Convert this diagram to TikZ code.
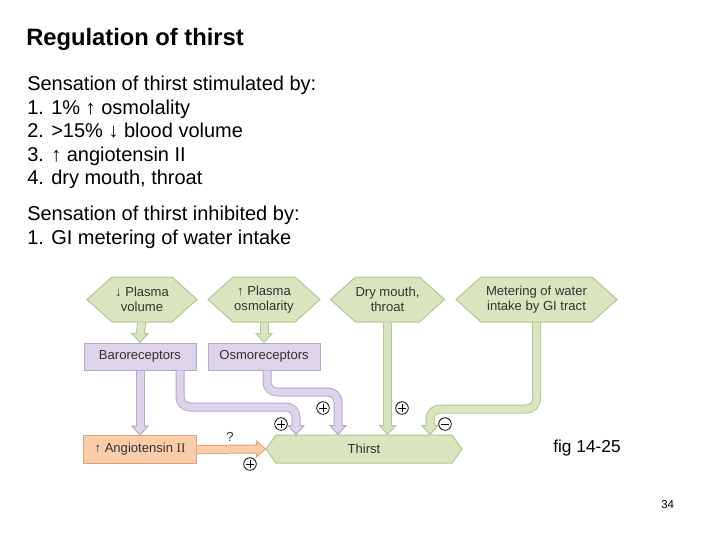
\documentclass[tikz,border=0pt]{standalone}
\usepackage{fontspec}
\setmainfont{Liberation Sans}
\newfontfamily\serifii{Liberation Serif}
\usetikzlibrary{shapes.symbols,calc}
\definecolor{gfill}{HTML}{D9E5BF}
\definecolor{gline}{HTML}{B3C58F}
\definecolor{pfill}{HTML}{DDD3EA}
\definecolor{pline}{HTML}{B6A7CD}
\definecolor{ofill}{HTML}{F9CDAA}
\definecolor{oline}{HTML}{E8A273}
\definecolor{dtext}{HTML}{333333}
\newcommand{\pipedown}[3]{%
  \draw[#1line, line width=6.75pt, rounded corners=7.5pt] #2 -- ($(#3)+(0,-8)$);
  \filldraw[fill=#1fill, draw=#1line, line width=0.75pt, line join=miter] ($(#3)+(-8,-9)$) -- ($(#3)+(8,-9)$) -- (#3) -- cycle;
  \draw[#1fill, line width=5.25pt, rounded corners=7.5pt] #2 -- ($(#3)+(0,-8.2)$);
}
\newcommand{\piperight}[3]{%
  \draw[#1line, line width=6.75pt] #2 -- ($(#3)+(-8,0)$);
  \filldraw[fill=#1fill, draw=#1line, line width=0.75pt, line join=miter] ($(#3)+(-9,-8)$) -- ($(#3)+(-9,8)$) -- (#3) -- cycle;
  \draw[#1fill, line width=5.25pt] #2 -- ($(#3)+(-8.2,0)$);
}
\tikzset{
  bodytext/.style={anchor=base west, inner sep=0pt, font=\fontsize{15}{18}\selectfont},
  diagtext/.style={text=dtext, font=\fontsize{9.8}{11}\selectfont, align=center, inner sep=0pt},
  hexg/.style={diagtext, shape=signal, signal to=west and east, signal pointer angle=84,
    fill=gfill, draw=gline, line width=0.75pt, minimum height=33.75pt},
  pbox/.style={diagtext, rectangle, fill=pfill, draw=pline, line width=0.75pt,
    minimum width=84pt, minimum height=20.25pt},
  obox/.style={diagtext, rectangle, fill=ofill, draw=oline, line width=0.75pt,
    minimum width=84.75pt, minimum height=21pt},
  sgn/.style={circle, draw=black, line width=0.6pt, minimum size=9.4pt, inner sep=0pt},
  plussign/.style={sgn, path picture={
    \draw[line width=0.65pt] ([xshift=-2.9pt]path picture bounding box.center) -- ([xshift=2.9pt]path picture bounding box.center);
    \draw[line width=0.65pt] ([yshift=-2.9pt]path picture bounding box.center) -- ([yshift=2.9pt]path picture bounding box.center);}},
  minussign/.style={sgn, path picture={
    \draw[line width=0.65pt] ([xshift=-2.9pt]path picture bounding box.center) -- ([xshift=2.9pt]path picture bounding box.center);}}
}
\begin{document}
\begin{tikzpicture}[x=0.75pt, y=-0.75pt]
\fill[white] (0,0) rectangle (720,540);
\useasboundingbox (0,0) rectangle (720,540);

% text block
\node[anchor=base west, inner sep=0pt, font=\fontsize{17.8}{20}\selectfont\bfseries] (title) at (26,45) {Regulation of thirst};
\node[bodytext] (s1) at (27,90) {Sensation of thirst stimulated by:};
\node[bodytext] (n1) at (27,114) {1.};
\node[bodytext] (t1) at (51,114) {1\% ↑ osmolality};
\node[bodytext] (n2) at (27,137) {2.};
\node[bodytext] (t2) at (51,137) {>15\% ↓ blood volume};
\node[bodytext] (n3) at (27,161) {3.};
\node[bodytext] (t3) at (51,161) {↑ angiotensin II};
\node[bodytext] (n4) at (27,184) {4.};
\node[bodytext] (t4) at (51,184) {dry mouth, throat};
\node[bodytext] (s2) at (27,220) {Sensation of thirst inhibited by:};
\node[bodytext] (n5) at (27,244) {1.};
\node[bodytext] (t5) at (51,244) {GI metering of water intake};

% diagram nodes
\node[hexg, minimum width=82.5pt] (h1) at (142,299.5) {↓ Plasma\\volume};
\node[hexg, minimum width=84pt] (h2) at (264,299.5) {↑ Plasma\\osmolarity};
\node[hexg, minimum width=83.25pt] (h3) at (387.5,299.5) {Dry mouth,\\throat};
\node[hexg, minimum width=120.75pt] (h4) at (536.5,299.5) {Metering of water\\intake by GI tract};
\node[pbox] (baro) at (140,356.5) {Baroreceptors};
\node[pbox] (osmo) at (264,356.5) {Osmoreceptors};
\node[obox] (angio) at (140,449.5) {↑ Angiotensin {\serifii II}};
\node[hexg, signal pointer angle=109, minimum width=147pt, minimum height=21pt] (thirst) at (364,449) {Thirst};

% helper coordinates
\coordinate (xb) at (180,0);
\coordinate (yb) at (0,407);
\coordinate (xbt) at (296,0);
\coordinate (xo) at (267,0);
\coordinate (yo) at (0,392);
\coordinate (xot) at (338,0);
\coordinate (ym) at (0,409);
\coordinate (xmt) at (430,0);
\coordinate (tb) at (thirst.north -| xbt);
\coordinate (to) at (thirst.north -| xot);
\coordinate (td) at (thirst.north -| h3.south);
\coordinate (tm) at (thirst.north -| xmt);

% connectors
\pipedown{g}{(h1.south)}{baro.north}
\pipedown{g}{(h2.south)}{osmo.north}
\pipedown{p}{(baro.south)}{angio.north}
\pipedown{p}{(baro.south -| xb) |- (yb -| xbt)}{tb}
\pipedown{p}{(osmo.south -| xo) |- (yo -| xot)}{to}
\pipedown{g}{(h3.south)}{td}
\pipedown{g}{(h4.south) |- (ym -| xmt)}{tm}
\piperight{o}{(angio.east)}{thirst.west}

% signs and labels
\node[plussign] (p1) at (323,408) {};
\node[plussign] (p2) at (281,424) {};
\node[plussign] (p3) at (402,408) {};
\node[plussign] (p4) at (250,464) {};
\node[minussign] (m1) at (445,424) {};
\node[diagtext] (q) at (230,437) {?};

\node[anchor=base west, inner sep=0pt, font=\fontsize{13}{15}\selectfont] (fig) at (553,452) {fig 14-25};
\node[anchor=base west, inner sep=0pt, font=\fontsize{8.6}{10}\selectfont] (pg) at (661,508) {34};
\end{tikzpicture}
\end{document}
